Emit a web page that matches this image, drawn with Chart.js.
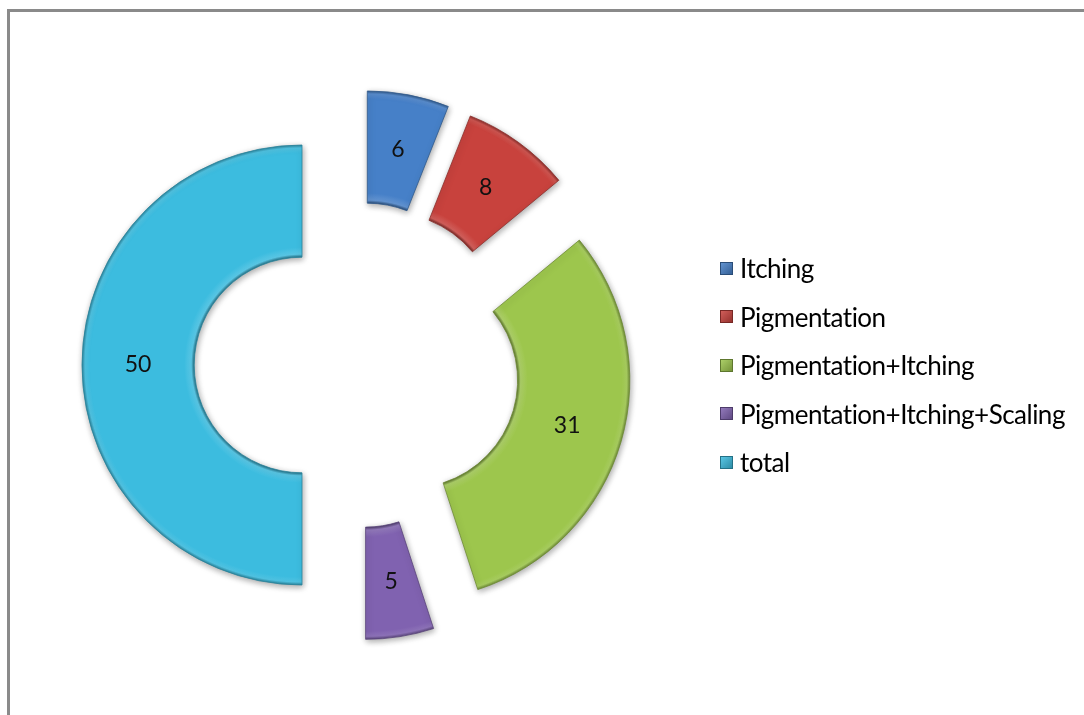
<!DOCTYPE html>
<html>
<head>
<meta charset="utf-8">
<title>Symptoms</title>
<script src="https://cdn.jsdelivr.net/npm/chart.js@4.4.1/dist/chart.umd.min.js"></script>
<style>
  html, body { margin: 0; padding: 0; background: #fff; }
  #wrap { position: relative; width: 1084px; height: 715px; overflow: hidden; }
  #frame {
    position: absolute; left: 7px; top: 9px; width: 1200px; height: 800px;
    border-top: 3px solid #8a8a8a; border-left: 3px solid #8a8a8a;
  }
  #chart { position: absolute; left: 0; top: 0; }
  #legend {
    position: absolute; left: 720px; top: 244px;
    font-family: Lato, "Open Sans", sans-serif; font-size: 26px; color: #000;
    letter-spacing: -0.5px;
  }
  .item { display: flex; align-items: center; height: 48.5px; white-space: nowrap; }
  .box { width: 13px; height: 13px; margin-right: 7px; box-sizing: border-box; flex: none; }
</style>
</head>
<body>
<div id="wrap">
  <div id="frame"></div>
  <canvas id="chart" width="1084" height="715"></canvas>
  <div id="legend"></div>
</div>
<script>
const labels = ['Itching', 'Pigmentation', 'Pigmentation+Itching', 'Pigmentation+Itching+Scaling', 'total'];
const counts = [6, 8, 31, 5, 50];
const colors = ['#4680c8', '#c8423d', '#9dc64d', '#8062b0', '#3cbcdf'];

const explode = 55;      // how far each slice is pulled away from the centre
const labelFont = '23px Lato, "Open Sans", sans-serif';

function shade(hex, amt) {
    const n = parseInt(hex.slice(1), 16);
    const ch = [n >> 16, (n >> 8) & 255, n & 255].map(c => {
        const v = amt < 0 ? c * (1 + amt) : c + (255 - c) * amt;
        return Math.round(Math.max(0, Math.min(255, v)));
    });
    return `rgb(${ch[0]},${ch[1]},${ch[2]})`;
}

// radial gradient so the inner and outer rims look bevelled
function ringFill(context) {
    const chart = context.chart;
    const base = colors[context.dataIndex];
    const meta = chart.getDatasetMeta(0);
    const area = chart.chartArea;
    const ctrl = meta.controller;
    if (!area || !ctrl || !ctrl.outerRadius) return base;
    const cx = (area.left + area.right) / 2;
    const cy = (area.top + area.bottom) / 2;
    const r1 = ctrl.outerRadius;
    const r0 = ctrl.innerRadius;
    const g = chart.ctx.createRadialGradient(cx, cy, 0, cx, cy, r1);
    const f = r => Math.max(0, Math.min(1, r / r1));
    g.addColorStop(0, shade(base, -0.4));
    g.addColorStop(f(r0), shade(base, -0.4));
    g.addColorStop(f(r0 + 3), shade(base, 0.15));
    g.addColorStop(f(r0 + 10), base);
    g.addColorStop(f(r1 - 8), base);
    g.addColorStop(f(r1 - 3), shade(base, 0.1));
    g.addColorStop(1, shade(base, -0.3));
    return g;
}

function shift(arc) {
    const mid = (arc.startAngle + arc.endAngle) / 2;
    return { dx: Math.cos(mid) * explode, dy: Math.sin(mid) * explode };
}

// draws every arc pulled outward along its own middle angle
const explodedArcs = {
    id: 'explodedArcs',
    beforeDatasetDraw(chart, args) {
        const ctx = chart.ctx;
        args.meta.data.forEach(arc => {
            const { dx, dy } = shift(arc);
            ctx.save();
            ctx.translate(dx, dy);
            ctx.shadowColor = 'rgba(0,0,0,0.35)';
            ctx.shadowBlur = 6;
            ctx.shadowOffsetX = 1;
            ctx.shadowOffsetY = 2;
            arc.draw(ctx);
            ctx.restore();
        });
        return false;
    },
    afterDatasetsDraw(chart) {
        const ctx = chart.ctx;
        const meta = chart.getDatasetMeta(0);
        ctx.save();
        ctx.font = labelFont;
        ctx.fillStyle = '#111';
        ctx.textAlign = 'center';
        ctx.textBaseline = 'middle';
        meta.data.forEach((arc, i) => {
            const p = arc.tooltipPosition();
            const { dx, dy } = shift(arc);
            ctx.fillText(String(counts[i]), p.x + dx, p.y + dy);
        });
        ctx.restore();
    }
};

new Chart(document.getElementById('chart'), {
    type: 'doughnut',
    data: {
        labels: labels,
        datasets: [{
            data: counts,
            backgroundColor: ringFill,
            borderColor: colors.map(c => shade(c, -0.3)),
            borderWidth: 0.8,
            hoverOffset: 0
        }]
    },
    options: {
        responsive: false,
        animation: false,
        events: [],
        radius: 220,
        cutout: '49%',
        layout: { padding: { left: 0, right: 370, top: 15, bottom: 0 } },
        plugins: {
            legend: { display: false },
            tooltip: { enabled: false }
        }
    },
    plugins: [explodedArcs]
});

const legend = document.getElementById('legend');
labels.forEach((name, i) => {
    const row = document.createElement('div');
    row.className = 'item';
    const box = document.createElement('span');
    box.className = 'box';
    box.style.background = `linear-gradient(135deg, ${shade(colors[i], 0.15)}, ${shade(colors[i], -0.25)})`;
    box.style.border = `1px solid ${shade(colors[i], -0.4)}`;
    const text = document.createElement('span');
    text.textContent = name;
    row.appendChild(box);
    row.appendChild(text);
    legend.appendChild(row);
});
</script>
</body>
</html>
